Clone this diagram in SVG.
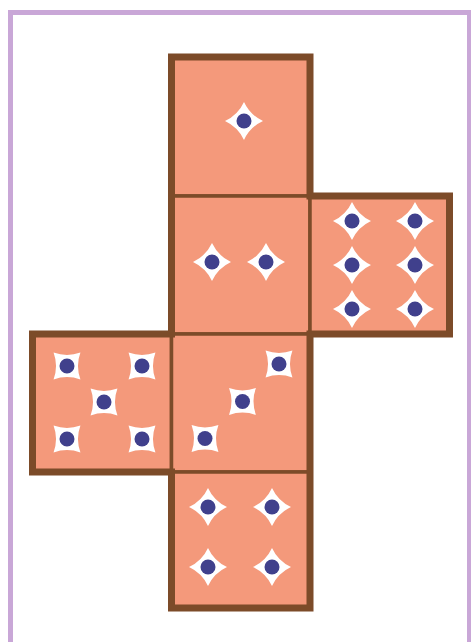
<svg xmlns="http://www.w3.org/2000/svg" xmlns:xlink="http://www.w3.org/1999/xlink" width="471" height="642" viewBox="0 0 471 642">
<style>
.frame{fill:none;stroke:#c9a7d7;stroke-width:5}
.face{fill:#f4997b;stroke:#7c4b29;stroke-width:3.5}
.outline{fill:none;stroke:#7c4b29;stroke-width:7;stroke-linejoin:miter}
.star{fill:#ffffff}
.dot{fill:#40408c}
</style>
<defs>
<g id="pip">
<path class="star" d="M0,-19 Q6,-6 19,0 Q6,6 0,19 Q-6,6 -19,0 Q-6,-6 0,-19 Z"/>
<circle class="dot" r="7.5"/>
</g>
<g id="pipr">
<use xlink:href="#pip" href="#pip" transform="rotate(45)"/>
</g>
</defs>
<rect class="frame" x="10.5" y="12.5" width="459" height="700"/>
<g id="face1">
<rect class="face" x="171.5" y="57" width="138.5" height="139"/>
<use href="#pip" xlink:href="#pip" x="244" y="121"/>
</g>
<g id="face2">
<rect class="face" x="171.5" y="196" width="138.5" height="138"/>
<use href="#pip" xlink:href="#pip" x="212" y="262"/>
<use href="#pip" xlink:href="#pip" x="266" y="262"/>
</g>
<g id="face6">
<rect class="face" x="310" y="196" width="139.5" height="138"/>
<use href="#pip" xlink:href="#pip" x="352" y="221"/>
<use href="#pip" xlink:href="#pip" x="415" y="221"/>
<use href="#pip" xlink:href="#pip" x="352" y="265"/>
<use href="#pip" xlink:href="#pip" x="415" y="265"/>
<use href="#pip" xlink:href="#pip" x="352" y="309"/>
<use href="#pip" xlink:href="#pip" x="415" y="309"/>
</g>
<g id="face5">
<rect class="face" x="32.5" y="334" width="139" height="138"/>
<use href="#pipr" xlink:href="#pipr" x="67" y="366"/>
<use href="#pipr" xlink:href="#pipr" x="142" y="366"/>
<use href="#pipr" xlink:href="#pipr" x="104" y="402"/>
<use href="#pipr" xlink:href="#pipr" x="67" y="439"/>
<use href="#pipr" xlink:href="#pipr" x="142" y="439"/>
</g>
<g id="face3">
<rect class="face" x="171.5" y="334" width="138.5" height="138"/>
<use href="#pipr" xlink:href="#pipr" x="279" y="364"/>
<use href="#pipr" xlink:href="#pipr" x="242.5" y="401.5"/>
<use href="#pipr" xlink:href="#pipr" x="205" y="438.5"/>
</g>
<g id="face4">
<rect class="face" x="171.5" y="472" width="138.5" height="136"/>
<use href="#pip" xlink:href="#pip" x="208" y="507"/>
<use href="#pip" xlink:href="#pip" x="272" y="507"/>
<use href="#pip" xlink:href="#pip" x="208" y="567"/>
<use href="#pip" xlink:href="#pip" x="272" y="567"/>
</g>
<g id="connectors">
<path class="outline" d="M171.5,57 H310 V196 H449.5 V334 H310 V608 H171.5 V472 H32.5 V334 H171.5 Z"/>
</g>
</svg>
